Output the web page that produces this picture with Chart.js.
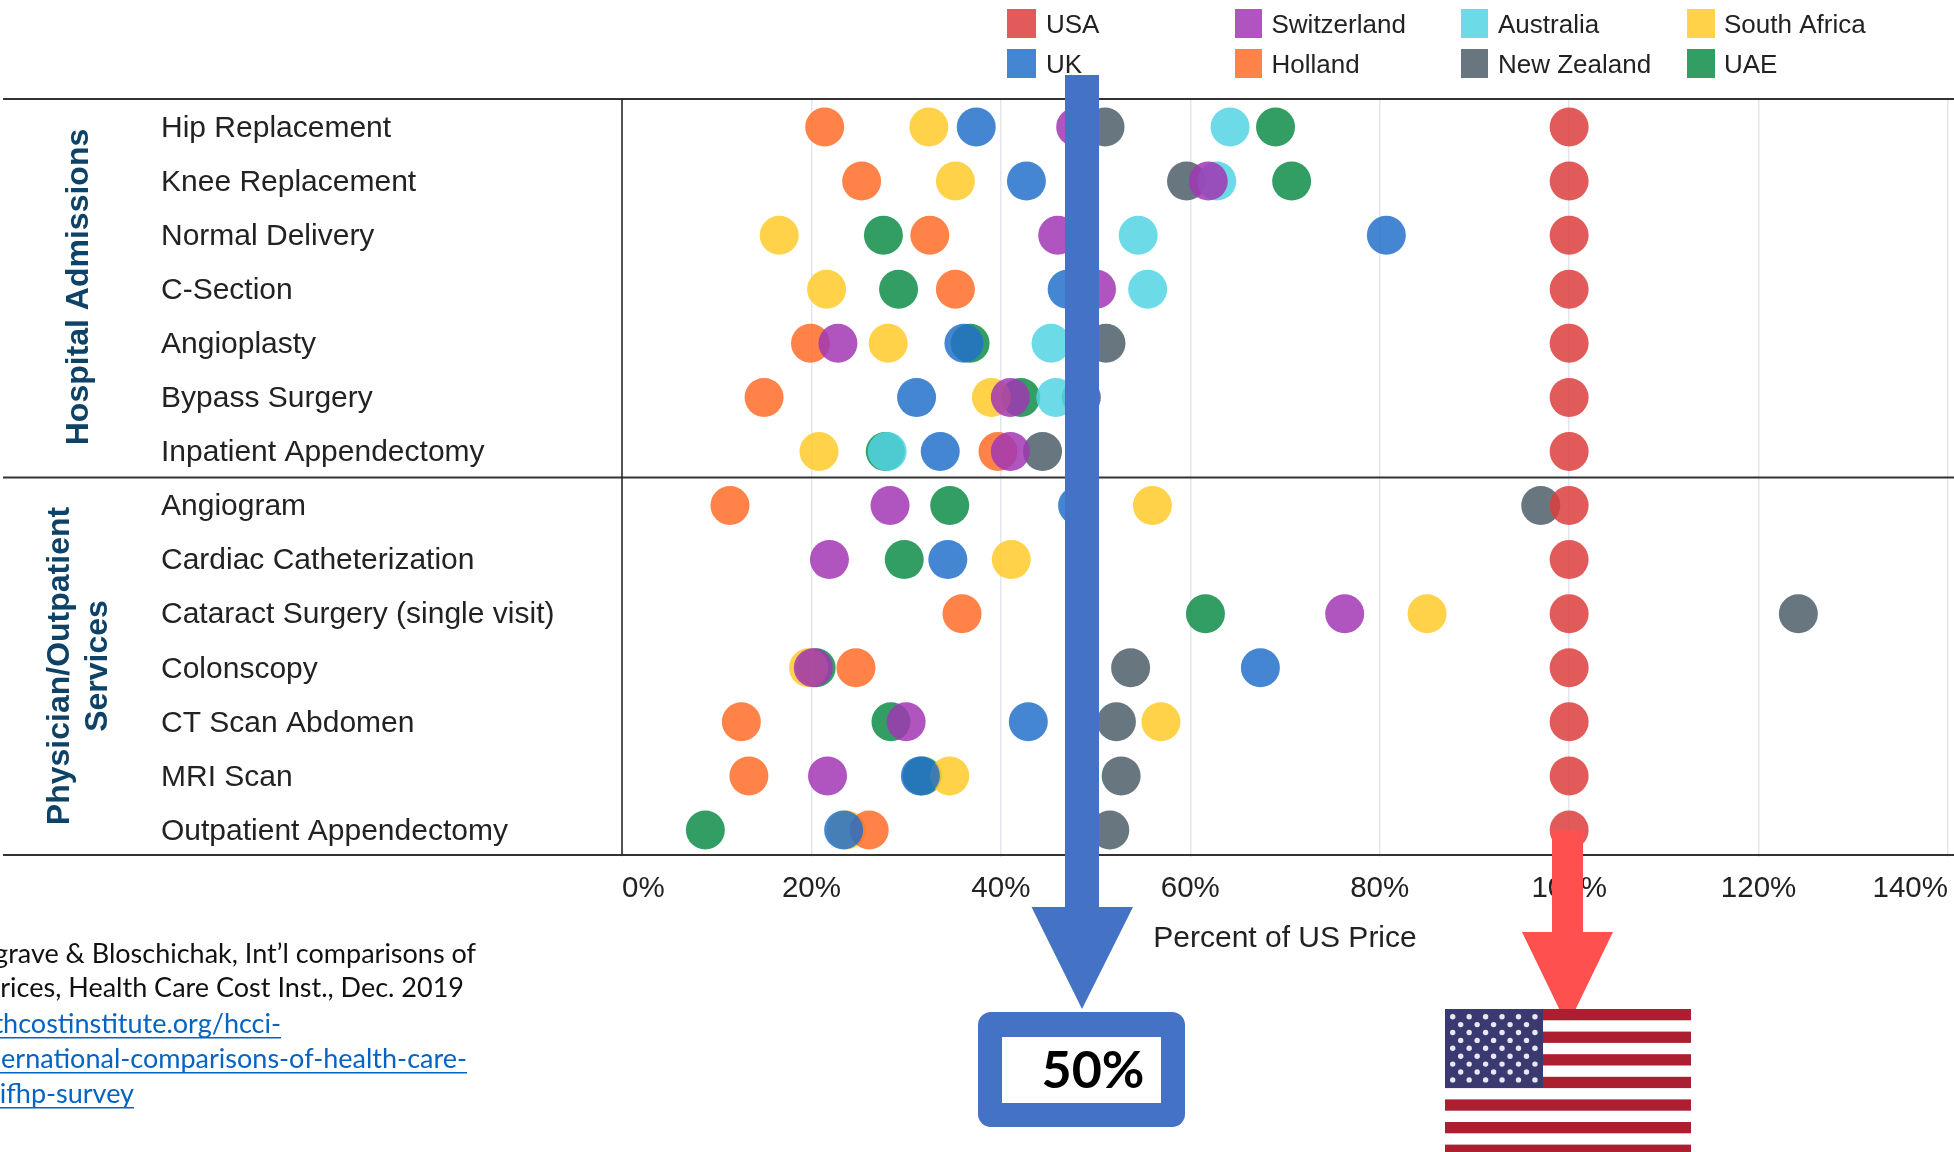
<!DOCTYPE html>
<html>
<head>
<meta charset="utf-8">
<title>Percent of US Price</title>
<style>html,body{margin:0;padding:0;background:#fff;overflow:hidden}canvas{display:block}</style>
<script src="https://cdn.jsdelivr.net/npm/chart.js@4/dist/chart.umd.min.js"></script>
</head>
<body>
<canvas id="c" width="1954" height="1152"></canvas>
<script>
const categories = ["Hip Replacement","Knee Replacement","Normal Delivery","C-Section","Angioplasty","Bypass Surgery","Inpatient Appendectomy","Angiogram","Cardiac Catheterization","Cataract Surgery (single visit)","Colonscopy","CT Scan Abdomen","MRI Scan","Outpatient Appendectomy"];
const xTicks = [0,20,40,60,80,100,120,140];
const usa         = [100,100,100,100,100,100,100,100,100,100,100,100,100,100];
const uk          = [37.4,42.7,80.7,47.0,36.1,31.1,33.6,48.1,34.4,null,67.4,42.9,31.5,23.4];
const switzerland = [47.9,61.9,46.0,50.1,22.8,41.0,41.0,28.3,21.9,76.3,20.2,30.0,21.7,null];
const holland     = [21.4,25.3,32.5,35.2,19.9,15.0,39.7,11.4,null,35.9,24.7,12.6,13.4,26.1];
const australia   = [64.2,62.8,54.5,55.5,45.3,45.8,28.0,null,null,null,null,null,null,null];
const newZealand  = [51.0,59.6,null,null,51.1,48.5,44.4,97.0,null,124.2,53.7,52.2,52.7,51.5];
const southAfrica = [32.4,35.2,16.6,21.6,28.1,39.0,20.8,56.0,41.1,85.0,19.7,56.9,34.6,23.7];
const uae         = [69.0,70.7,27.6,29.2,36.75,42.1,27.8,34.6,29.8,61.6,20.5,28.4,31.7,8.8];

const seriesNames = ["USA","UK","Switzerland","Holland","Australia","New Zealand","South Africa","UAE"];
const seriesValues = [usa,uk,switzerland,holland,australia,newZealand,southAfrica,uae];
const seriesColors = ["rgba(221,62,62,.85)","rgba(36,113,202,.85)","rgba(162,55,180,.85)","rgba(255,108,41,.85)","rgba(83,212,228,.85)","rgba(78,95,104,.85)","rgba(255,202,42,.85)","rgba(15,141,72,.85)"];
const SANS = '"Liberation Sans", Arial, sans-serif';

const datasets = seriesNames.map((name,i)=>({
  label:name,
  data:categories.map((c,j)=>seriesValues[i][j]===null?null:({x:seriesValues[i][j],y:c})).filter(Boolean),
  backgroundColor:seriesColors[i],
  borderWidth:0,
  pointRadius:19.5,
  pointHoverRadius:19.5
}));

function poly(ctx,pts,color){ctx.fillStyle=color;ctx.beginPath();pts.forEach((p,i)=>i?ctx.lineTo(p[0],p[1]):ctx.moveTo(p[0],p[1]));ctx.closePath();ctx.fill();}

const decorations = {
  id:'decorations',
  afterDraw(chart){
    const ctx=chart.ctx, a=chart.chartArea, ys=chart.scales.y;
    ctx.save();
    // frame lines
    const mid=(ys.getPixelForValue(6)+ys.getPixelForValue(7))/2;
    ctx.fillStyle='#333';
    [a.top-1,mid-1,a.bottom-2].forEach(y=>ctx.fillRect(3,y-1,1951,2));
    ctx.fillStyle='#222';
    ctx.fillRect(a.left-.75,a.top-1,1.5,a.bottom-a.top-1);
    // group titles
    ctx.fillStyle='#0E4266';
    ctx.font='bold 32px '+SANS;
    ctx.textAlign='center';ctx.textBaseline='middle';
    [["Hospital Admissions",79,287],["Physician/Outpatient",60,666],["Services",98,666]].forEach(t=>{
      ctx.save();ctx.translate(t[1],t[2]);ctx.rotate(-Math.PI/2);ctx.fillText(t[0],0,0);ctx.restore();
    });
    // legend
    const cols=[[1007,1036,1046],[1235,1262,1271.5],[1461,1488,1498],[1687,1715,1724]];
    const rows=[[9,38],[49,78]];
    const layout=[[0,0],[0,1],[1,0],[1,1],[2,0],[2,1],[3,0],[3,1]];
    ctx.font='26px '+SANS;ctx.textAlign='left';
    seriesNames.forEach((n,i)=>{
      const c=cols[layout[i][0]],r=rows[layout[i][1]];
      ctx.fillStyle=seriesColors[i];ctx.fillRect(c[0],r[0],c[1]-c[0],r[1]-r[0]);
      ctx.fillStyle='#222';ctx.fillText(n,c[2],(r[0]+r[1])/2+2);
    });
    // red arrow
    poly(ctx,[[1552,830],[1583,830],[1583,932],[1613,932],[1567.5,1026],[1522,932],[1552,932]],'#FF5050');
    // flag
    const fx=1445,fy=1009,fw=246,fh=143;
    ctx.fillStyle='#fff';ctx.fillRect(fx,fy,fw,fh);
    ctx.fillStyle='#AC1F30';
    for(let i=0;i<7;i++)ctx.fillRect(fx,fy+i*22.6,fw,Math.min(11.3,fh-i*22.6));
    ctx.fillStyle='#3A3A70';ctx.fillRect(fx,fy,98,79);
    ctx.fillStyle='#E8E8F2';
    for(let r=0;r<9;r++){
      const n=r%2?5:6,x0=r%2?1460.7:1452.7;
      for(let k=0;k<n;k++){ctx.beginPath();ctx.arc(x0+k*16.45,1016.7+r*7.9,2.7,0,Math.PI*2);ctx.fill();}
    }
    // blue arrow
    poly(ctx,[[1065,75],[1099,75],[1099,907],[1133,907],[1082,1009],[1031.5,907],[1065,907]],'#4472C4');
    // 50% box
    ctx.fillStyle='#4472C4';ctx.beginPath();ctx.roundRect(978,1012,207,115,13);ctx.fill();
    ctx.fillStyle='#fff';ctx.fillRect(1002,1037,159,66);
    ctx.fillStyle='#000';ctx.font='bold 52px Lato, sans-serif';ctx.textAlign='center';ctx.textBaseline='middle';
    ctx.fillText('50%',1093,1071);
    // footnote
    ctx.textAlign='right';ctx.textBaseline='alphabetic';ctx.font='27px Lato, sans-serif';
    [["grave & Bloschichak, Int’l comparisons of",476,963,'#111'],["prices, Health Care Cost Inst., Dec. 2019",464,997,'#111'],["thcostinstitute.org/hcci-",281,1033,'#0563C1'],["ernational-comparisons-of-health-care-",467,1068,'#0563C1'],["ifhp-survey",134,1103,'#0563C1']].forEach(l=>{
      ctx.fillStyle=l[3];ctx.fillText(l[0],l[1],l[2]);
      if(l[3]==='#0563C1'){ctx.fillRect(0,l[2]+4,l[1],1.5);}
    });
    ctx.restore();
  }
};

new Chart(document.getElementById('c'),{
  type:'scatter',
  data:{labels:categories,datasets},
  plugins:[decorations],
  options:{
    responsive:false,animation:false,
    layout:{autoPadding:false,padding:{left:161,right:6,top:100,bottom:195}},
    plugins:{legend:{display:false},tooltip:{enabled:false}},
    events:[],
    scales:{
      x:{type:'linear',min:0,max:140,position:'bottom',
        afterBuildTicks(s){s.ticks=xTicks.map(v=>({value:v}));},
        afterFit(s){s.height=100;s.paddingLeft=0;s.paddingRight=0;},
        border:{display:false},
        grid:{color:'#E3E6EC',lineWidth:1.5,drawTicks:false},
        ticks:{align:'inner',autoSkip:false,maxRotation:0,padding:14,color:'#222',font:{family:SANS,size:29.5},callback:v=>v+'%'},
        title:{display:true,text:'Percent of US Price',color:'#222',font:{family:SANS,size:30},padding:0}
      },
      y:{type:'category',labels:categories,offset:true,position:'left',
        afterFit(s){s.width=461;s.paddingTop=0;s.paddingBottom=0;},
        border:{display:false},
        grid:{display:false,drawTicks:false},
        ticks:{crossAlign:'far',autoSkip:false,padding:0,labelOffset:1.5,color:'#222',font:{family:SANS,size:30}}
      }
    }
  }
});
</script>
</body>
</html>
